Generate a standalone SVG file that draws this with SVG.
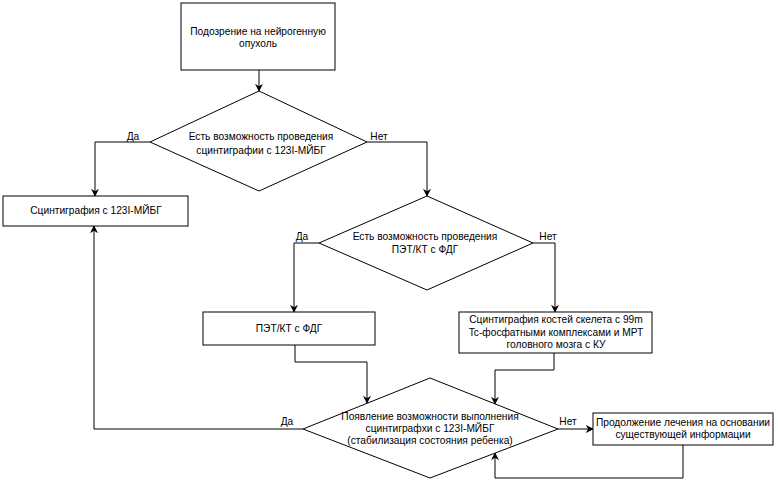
<svg xmlns="http://www.w3.org/2000/svg" width="778" height="483" viewBox="0 0 778 483">
<style>
.s{fill:#fff;stroke:#000;stroke-width:1}
.t{font-family:"Liberation Sans",Arial,sans-serif;font-size:10.2px;fill:#000;text-anchor:middle}
.c{fill:none;stroke:#000;stroke-width:1}
</style>
<defs>
<marker id="a" viewBox="0 0 10 10" refX="9" refY="5" markerWidth="8" markerHeight="8" markerUnits="userSpaceOnUse" orient="auto">
<path d="M0,0 L10,5 L0,10 L3,5 Z" fill="#000"/>
</marker>
</defs>
<rect width="778" height="483" fill="#fff"/>
<g id="connectors">
<path class="c" d="M259,70 V91" marker-end="url(#a)"/>
<path class="c" d="M150,142 H95 V196" marker-end="url(#a)"/>
<path class="c" d="M367,142 H427 V196" marker-end="url(#a)"/>
<path class="c" d="M319,243 H294 V312" marker-end="url(#a)"/>
<path class="c" d="M533,243 H555 V312" marker-end="url(#a)"/>
<path class="c" d="M295,345 V362 H367 V403" marker-end="url(#a)"/>
<path class="c" d="M554,353 V370 H495 V404" marker-end="url(#a)"/>
<path class="c" d="M303,429 H94 V226" marker-end="url(#a)"/>
<path class="c" d="M558,429 H593" marker-end="url(#a)"/>
<path class="c" d="M683,445 V478 H495 V453" marker-end="url(#a)"/>
<text class="t" x="133" y="140">Да</text>
<text class="t" x="379" y="140">Нет</text>
<text class="t" x="302" y="240">Да</text>
<text class="t" x="548" y="240">Нет</text>
<text class="t" x="287" y="425">Да</text>
<text class="t" x="568" y="425">Нет</text>
</g>
<g id="start">
<rect class="s" x="181" y="3" width="154" height="67"/>
<text class="t" x="258" y="35">Подозрение на нейрогенную</text>
<text class="t" x="258" y="47">опухоль</text>
</g>
<g id="dec1">
<polygon class="s" points="259,91 367,142 259,191 150,142"/>
<text class="t" x="261" y="140">Есть возможность проведения</text>
<text class="t" x="261" y="154">сцинтиграфии с 123I-МЙБГ</text>
</g>
<g id="mibg">
<rect class="s" x="3" y="196" width="185" height="30"/>
<text class="t" x="96" y="214">Сцинтиграфия с 123I-МЙБГ</text>
</g>
<g id="dec2">
<polygon class="s" points="427,196 533,243 427,290 319,243"/>
<text class="t" x="425" y="240">Есть возможность проведения</text>
<text class="t" x="425" y="253">ПЭТ/КТ с ФДГ</text>
</g>
<g id="pet">
<rect class="s" x="203" y="312" width="172" height="33"/>
<text class="t" x="289" y="332">ПЭТ/КТ с ФДГ</text>
</g>
<g id="bone">
<rect class="s" x="459" y="312" width="193" height="41"/>
<text class="t" x="556" y="323">Сцинтиграфия костей скелета с 99m</text>
<text class="t" x="556" y="336">Tc-фосфатными комплексами и МРТ</text>
<text class="t" x="556" y="348">головного мозга с КУ</text>
</g>
<g id="dec3">
<polygon class="s" points="430,378 558,429 430,478 303,429"/>
<text class="t" x="430" y="420">Появление возможности выполнения</text>
<text class="t" x="430" y="432">сцинтиграфхи с 123I-МЙБГ</text>
<text class="t" x="430" y="444">(стабилизация состояния ребенка)</text>
</g>
<g id="cont">
<rect class="s" x="593" y="413" width="180" height="32"/>
<text class="t" x="683" y="426">Продолжение лечения на основании</text>
<text class="t" x="683" y="438">существующей информации</text>
</g>
</svg>
